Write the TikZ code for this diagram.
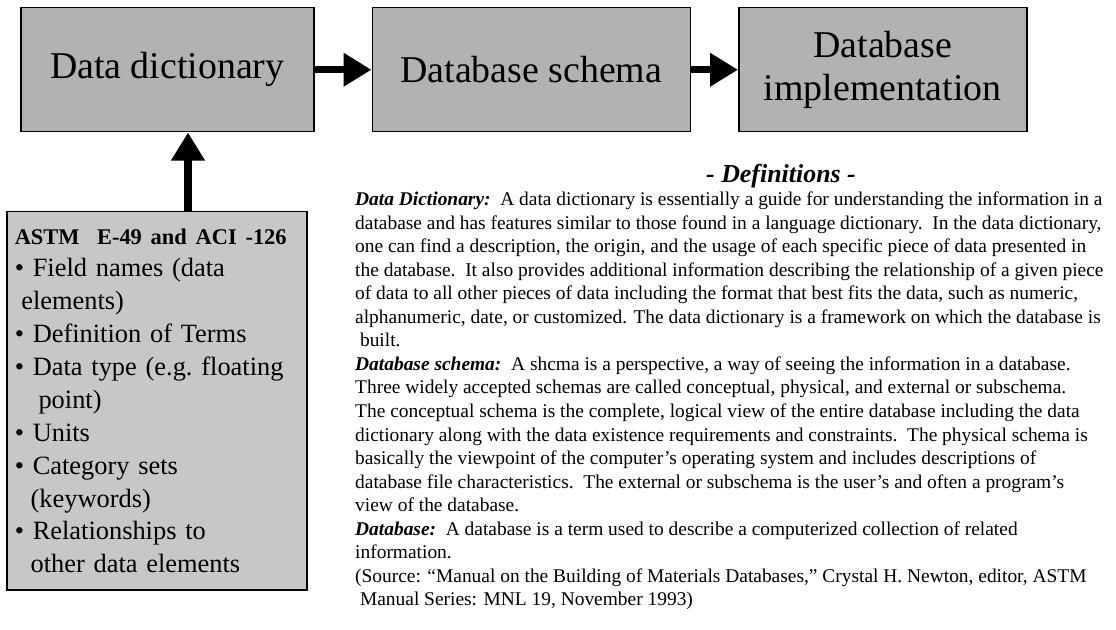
\documentclass[tikz,border=0pt]{standalone}
\usepackage{fontspec}
\setmainfont{Liberation Serif}
\usetikzlibrary{positioning}
\usetikzlibrary{arrows.meta}

\tikzset{
  stage/.style={draw, line width=1.5bp, fill=black!30, minimum height=124bp,
    inner sep=0pt, align=center, font=\fontsize{38}{43}\selectfont},
  fatarrow/.style={-{Triangle[length=28bp,width=32bp]}, line width=7.5bp},
}

\begin{document}
\begin{tikzpicture}[x=1bp,y=-1bp]
	\useasboundingbox (0,0) rectangle (1116,630);
	% top row
	\node (dict) [stage, minimum width=293bp, anchor=north west] at (20,7) {Data dictionary};
	\node (schema) [stage, minimum width=318bp, right=57bp of dict] {Database schema};
	\node (impl) [stage, minimum width=288bp, right=47bp of schema] {Database\\implementation};
	
	% standards box
	\node (astm) [draw, line width=1.5bp, fill=black!22, anchor=north west,
	  minimum width=300bp, minimum height=378bp, inner xsep=8bp,
	  text width=284bp, align=left, font=\fontsize{26.5}{33}\selectfont] at (6,211)
	  {{\bfseries\fontsize{22.5}{33}\selectfont ASTM\ \ E-49 and ACI -126}\\
	   \textbullet\ Field names (data\\
	   \hspace{0.25em}elements)\\
	   \textbullet\ Definition of Terms\\
	   \textbullet\ Data type (e.g.\ floating\\
	   \hspace{0.9em}point)\\
	   \textbullet\ Units\\
	   \textbullet\ Category sets\\
	   \hspace{0.6em}(keywords)\\
	   \textbullet\ Relationships to\\
	   \hspace{0.6em}other data elements};
	\coordinate (up) at (188,211);
	
	\draw[fatarrow] (dict) -- (schema);
	\draw[fatarrow] (schema) -- (impl);
	\draw[fatarrow] (up) -- (up |- dict.south);
	
	% definitions
	\node (title) [anchor=base, font=\bfseries\itshape\fontsize{26}{28}\selectfont] at (781,183) {- Definitions -};
	\node (defs) [anchor=north west, inner sep=0pt, align=left,
	  font=\fontsize{19.5}{23.6}\selectfont] at (355,192)
	  {\textbf{\textit{Data Dictionary:}}\ \ A data dictionary is essentially a guide for understanding the information in a\\
	   database and has features similar to those found in a language dictionary.\ \ In the data dictionary,\\
	   one can find a description, the origin, and the usage of each specific piece of data presented in\\
	   the database.\ \ It also provides additional information describing the relationship of a given piece\\
	   of data to all other pieces of data including the format that best fits the data, such as numeric,\\
	   alphanumeric, date, or customized. The data dictionary is a framework on which the database is\\
	   \ built.\\
	   \textbf{\textit{Database schema:}}\ \ A shcma is a perspective, a way of seeing the information in a database.\\
	   Three widely accepted schemas are called conceptual, physical, and external or subschema.\\
	   The conceptual schema is the complete, logical view of the entire database including the data\\
	   dictionary along with the data existence requirements and constraints.\ \ The physical schema is\\
	   basically the viewpoint of the computer’s operating system and includes descriptions of\\
	   database file characteristics.\ \ The external or subschema is the user’s and often a program’s\\
	   view of the database.\\
	   \textbf{\textit{Database:}}\ \ A database is a term used to describe a computerized collection of related\\
	   information.\\
	   (Source: “Manual on the Building of Materials Databases,” Crystal H. Newton, editor, ASTM\\
	   \ Manual Series: MNL 19, November 1993)};
\end{tikzpicture}
\end{document}
